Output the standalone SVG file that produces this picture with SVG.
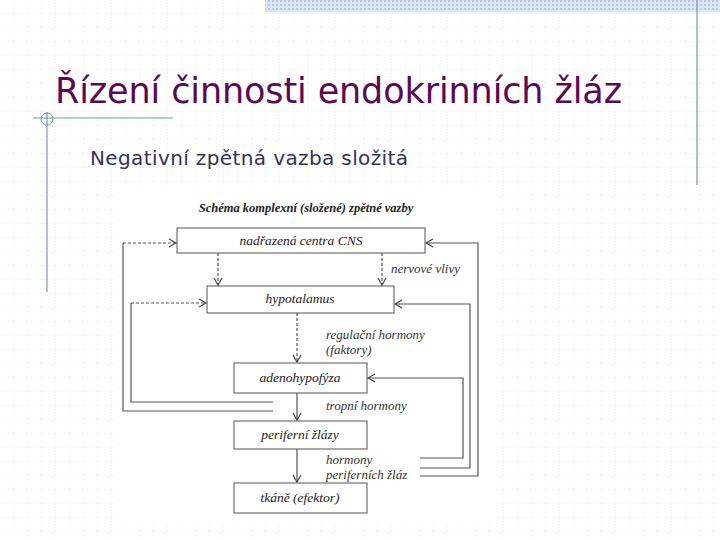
<svg xmlns="http://www.w3.org/2000/svg" width="720" height="540" viewBox="0 0 720 540">
<defs>
<pattern id="grid" width="14" height="14" patternUnits="userSpaceOnUse"><path d="M14 0V14H0" fill="none" stroke="#c8c8d0" stroke-width="0.6" stroke-dasharray="1,2"/></pattern>
<pattern id="band" width="4" height="4" patternUnits="userSpaceOnUse"><rect width="4" height="4" fill="#dde6f3"/><rect width="2" height="2" fill="#b9c8e2"/></pattern>
<marker id="ah" markerWidth="10" markerHeight="10" refX="8" refY="5" orient="auto" markerUnits="userSpaceOnUse"><path d="M1 1L8 5L1 9" fill="none" stroke="#444" stroke-width="1.2"/></marker>
</defs>
<style>
.box{fill:#fff;stroke:#555;stroke-width:1}
.lbl{font-family:"Liberation Serif",serif;font-style:italic;font-size:13px;fill:#333}
.bl{font-family:"Liberation Serif",serif;font-style:italic;font-size:13.5px;fill:#222;text-anchor:middle}
.c{fill:none;stroke:#555;stroke-width:1.2}
.d{stroke-dasharray:3,2}
</style>
<rect width="720" height="540" fill="#fff"/>
<rect width="720" height="540" fill="url(#grid)"/>
<rect x="265" y="0" width="455" height="12" fill="url(#band)"/>
<line x1="697" y1="0" x2="697" y2="185" stroke="#8090b8" stroke-width="1.2"/>
<line x1="33" y1="118" x2="173" y2="118" stroke="#8090b8" stroke-width="1.2"/>
<line x1="47" y1="112" x2="47" y2="292" stroke="#8090b8" stroke-width="1.2"/>
<circle cx="47" cy="119" r="6" fill="none" stroke="#8090b8" stroke-width="1"/>
<text x="55" y="103" font-family="DejaVu Sans, sans-serif" font-size="35" fill="#5a0a55" textLength="567">Řízení činnosti endokrinních žláz</text>
<text x="90" y="165" font-family="DejaVu Sans, sans-serif" font-size="20" fill="#333355" textLength="318">Negativní zpětná vazba složitá</text>
<rect x="115" y="187" width="378" height="335" fill="#fff"/>
<text x="306" y="212" font-family="Liberation Serif, serif" font-style="italic" font-weight="bold" font-size="12.5" fill="#222" text-anchor="middle">Schéma komplexní (složené) zpětné vazby</text>
<g id="connectors">
<path class="c d" d="M218 253V285" marker-end="url(#ah)"/>
<path class="c d" d="M382 253V285" marker-end="url(#ah)"/>
<path class="c d" d="M297 313V362" marker-end="url(#ah)"/>
<path class="c" d="M297 393V420" marker-end="url(#ah)"/>
<path class="c" d="M297 449V482" marker-end="url(#ah)"/>
<path class="c" d="M273 411H123V243"/><path class="c d" d="M123 243H176" marker-end="url(#ah)"/>
<path class="c" d="M273 402H131V303"/><path class="c d" d="M131 303H206" marker-end="url(#ah)"/>
<path class="c" d="M420 476H478V243H426" marker-end="url(#ah)"/>
<path class="c" d="M420 468H470V304H395" marker-end="url(#ah)"/>
<path class="c" d="M420 458H463V378H368" marker-end="url(#ah)"/>
</g>
<g id="n1"><rect class="box" x="177" y="228" width="248" height="25"/><text class="bl" x="301" y="245">nadřazená centra CNS</text></g>
<g id="n2"><rect class="box" x="207" y="286" width="187" height="27"/><text class="bl" x="300" y="303">hypotalamus</text></g>
<g id="n3"><rect class="box" x="234" y="363" width="133" height="30"/><text class="bl" x="300" y="382">adenohypofýza</text></g>
<g id="n4"><rect class="box" x="234" y="421" width="133" height="28"/><text class="bl" x="300" y="439">periferní žlázy</text></g>
<g id="n5"><rect class="box" x="234" y="483" width="133" height="30"/><text class="bl" x="300" y="502">tkáně (efektor)</text></g>
<text class="lbl" x="391" y="273">nervové vlivy</text>
<text class="lbl" x="326" y="339">regulační hormony</text>
<text class="lbl" x="326" y="354">(faktory)</text>
<text class="lbl" x="326" y="410">tropní hormony</text>
<text class="lbl" x="326" y="464">hormony</text>
<text class="lbl" x="326" y="479">periferních žláz</text>
</svg>
